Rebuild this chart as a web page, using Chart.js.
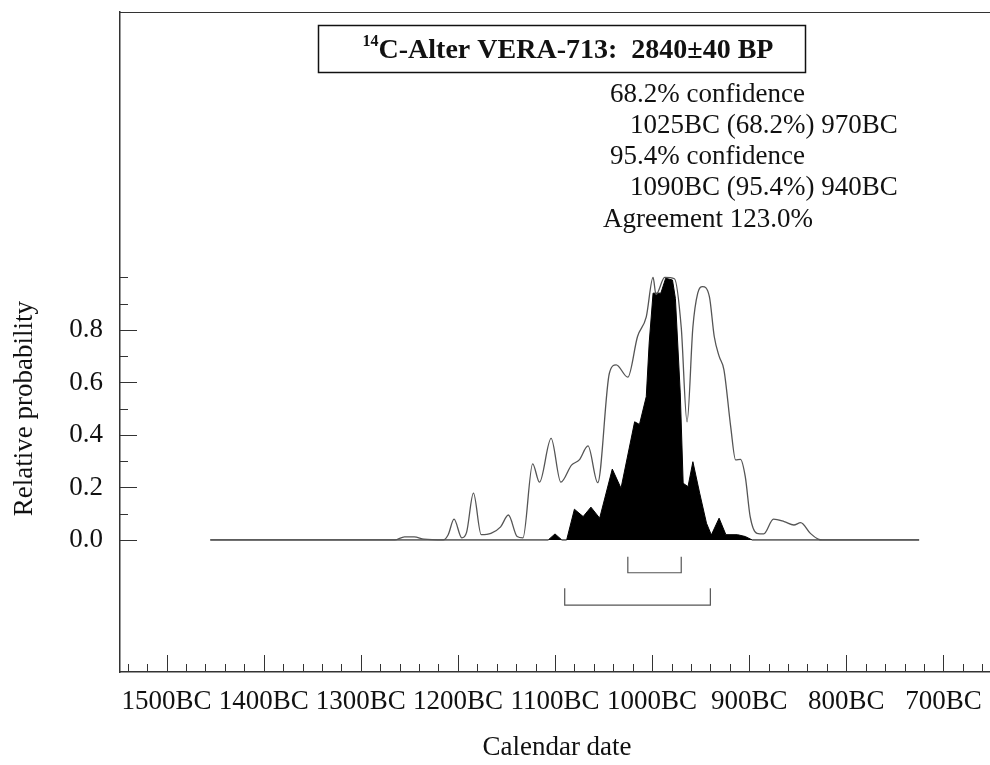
<!DOCTYPE html>
<html>
<head>
<meta charset="utf-8">
<script src="https://cdn.jsdelivr.net/npm/chart.js@4.4.0/dist/chart.umd.min.js"></script>
<style>
  html, body { margin: 0; padding: 0; background: #fff; }
</style>
</head>
<body>
<canvas id="c" width="990" height="765"></canvas>
<script>
// likelihood curve (outline), years BC and relative probability
const likeYears = [1455, 1265, 1255, 1245, 1235, 1215, 1210, 1204, 1196, 1191,
  1184, 1176, 1166, 1156, 1148, 1139, 1133, 1123, 1116, 1104,
  1094, 1083, 1075, 1066, 1056, 1044, 1037, 1025, 1015, 1006,
  999, 996, 987, 977, 970, 964, 958, 953, 948, 941,
  936, 931, 926, 919, 914, 909, 904, 899, 892, 885,
  875, 864, 854, 847, 837, 829, 825, 725]
const likeProb = [0, 0, 0.012, 0.012, 0.003, 0, 0.02, 0.079, 0.008, 0.03,
  0.178, 0.02, 0.025, 0.05, 0.095, 0.013, 0.008, 0.29, 0.22, 0.387,
  0.22, 0.285, 0.305, 0.358, 0.218, 0.635, 0.667, 0.62, 0.775, 0.85,
  1.0, 0.935, 1.0, 0.995, 0.81, 0.45, 0.81, 0.94, 0.965, 0.927,
  0.775, 0.70, 0.648, 0.43, 0.305, 0.307, 0.24, 0.089, 0.025, 0.023,
  0.079, 0.07, 0.057, 0.066, 0.025, 0.003, 0, 0]

// posterior (black filled)
const postYears = [1455, 1107, 1100, 1093, 1088, 1080, 1071, 1063, 1054, 1041,
  1032, 1018, 1013, 1006, 1003, 999, 991, 986, 979, 976,
  971, 968, 963, 958, 951, 944, 939, 931, 924, 912,
  904, 897, 725]
const postProb = [0, 0, 0.023, 0, 0, 0.117, 0.089, 0.125, 0.083, 0.27,
  0.197, 0.45, 0.44, 0.546, 0.75, 0.94, 0.94, 0.997, 0.99, 0.92,
  0.56, 0.216, 0.203, 0.298, 0.178, 0.064, 0.019, 0.083, 0.02, 0.02,
  0.013, 0, 0]

// ranges (BC)
const range68 = [1025, 970]
const range95 = [1090, 940]

// axis ticks
const labelYears = [1500, 1400, 1300, 1200, 1100, 1000, 900, 800, 700]
const minorYears = []
for (let yr = 1540; yr >= 660; yr -= 20) minorYears.push(yr)
const yLabels = [0, 0.2, 0.4, 0.6, 0.8]
const yTicks = [0, 0.1, 0.2, 0.3, 0.4, 0.5, 0.6, 0.7, 0.8, 0.9, 1.0]

const titleText = 'C-Alter VERA-713:  2840\u00b140 BP'
const infoLines = [
  '68.2% confidence',
  '1025BC (68.2%) 970BC',
  '95.4% confidence',
  '1090BC (95.4%) 940BC',
  'Agreement 123.0%'
]

const SERIF = '"Liberation Serif", "DejaVu Serif", serif'
const toPts = (years, probs) => years.map((yr, i) => ({x: -yr, y: probs[i]}))
const bracket = (r, top, bot) => [
  {x: -r[0], y: top}, {x: -r[0], y: bot}, {x: -r[1], y: bot}, {x: -r[1], y: top}
]

const decor = {
  id: 'decor',
  afterDraw(chart) {
    const {ctx, chartArea: a, scales: {x, y}} = chart
    ctx.save()
    ctx.strokeStyle = '#333'
    ctx.lineWidth = 1
    ctx.beginPath()
    // top frame
    ctx.moveTo(a.left, a.top + 0.5)
    ctx.lineTo(a.right, a.top + 0.5)
    // x ticks pointing inward
    x.ticks.forEach(t => {
      const px = Math.round(x.getPixelForValue(t.value)) + 0.5
      const len = labelYears.includes(-t.value) ? 17 : 8
      ctx.moveTo(px, a.bottom)
      ctx.lineTo(px, a.bottom - len)
    })
    // y ticks pointing inward
    y.ticks.forEach(t => {
      const py = Math.round(y.getPixelForValue(t.value)) + 0.5
      const v = Math.round(t.value * 10) / 10
      const len = yLabels.includes(v) ? 17 : 8
      ctx.moveTo(a.left, py)
      ctx.lineTo(a.left + len, py)
    })
    ctx.stroke()

    // title box
    ctx.lineWidth = 1.5
    ctx.strokeStyle = '#111'
    ctx.strokeRect(318.5, 25.5, 487, 47)
    ctx.fillStyle = '#111'
    ctx.textBaseline = 'alphabetic'
    ctx.font = 'bold 16px ' + SERIF
    const supW = ctx.measureText('14').width
    ctx.font = 'bold 28px ' + SERIF
    const mainW = ctx.measureText(titleText).width
    const x0 = 568 - (supW + mainW) / 2
    ctx.fillText(titleText, x0 + supW, 58)
    ctx.font = 'bold 16px ' + SERIF
    ctx.fillText('14', x0, 46)

    // summary text
    ctx.font = '27px ' + SERIF
    ctx.textBaseline = 'middle'
    ctx.textAlign = 'left'
    const lx = [610, 630, 610, 630, 603]
    const ly = [95, 126, 157, 188, 220]
    infoLines.forEach((s, i) => ctx.fillText(s, lx[i], ly[i]))

    // axis titles
    ctx.font = '27px ' + SERIF
    ctx.textAlign = 'center'
    ctx.fillText('Calendar date', 557, 748)
    ctx.translate(25, (y.getPixelForValue(0) + y.getPixelForValue(1)) / 2)
    ctx.rotate(-Math.PI / 2)
    ctx.fillText('Relative probability', 0, 0)
    ctx.restore()
  }
}

new Chart(document.getElementById('c'), {
  type: 'line',
  data: {
    datasets: [
      {
        data: toPts(likeYears, likeProb),
        borderColor: '#555',
        borderWidth: 1.3,
        pointRadius: 0,
        fill: false,
        cubicInterpolationMode: 'monotone'
      },
      {
        data: toPts(postYears, postProb),
        borderColor: '#000',
        backgroundColor: '#000',
        borderWidth: 1,
        pointRadius: 0,
        fill: 'origin',
        tension: 0
      },
      {
        data: bracket(range68, -0.064, -0.125),
        borderColor: '#555',
        borderWidth: 1.2,
        pointRadius: 0,
        fill: false
      },
      {
        data: bracket(range95, -0.184, -0.248),
        borderColor: '#555',
        borderWidth: 1.2,
        pointRadius: 0,
        fill: false
      }
    ]
  },
  options: {
    responsive: false,
    devicePixelRatio: 1,
    animation: false,
    layout: {padding: {left: 0, right: 0, top: 12, bottom: 0}},
    plugins: {legend: {display: false}, tooltip: {enabled: false}},
    scales: {
      x: {
        type: 'linear',
        min: -1548,
        max: -652,
        afterBuildTicks: s => { s.ticks = minorYears.map(yr => ({value: -yr})) },
        afterFit: s => { s.height = 93; s.paddingLeft = 0; s.paddingRight = 0 },
        grid: {display: false, drawTicks: false},
        border: {display: true, color: '#333', width: 1.5},
        ticks: {
          autoSkip: false,
          maxRotation: 0,
          padding: 14,
          color: '#111',
          font: {family: SERIF, size: 27},
          callback: v => labelYears.includes(-v) ? (-v) + 'BC' : ''
        }
      },
      y: {
        type: 'linear',
        min: -0.503,
        max: 2.011,
        afterBuildTicks: s => { s.ticks = yTicks.map(v => ({value: v})) },
        afterFit: s => { s.width = 120; s.paddingTop = 0; s.paddingBottom = 0 },
        grid: {display: false, drawTicks: false},
        border: {display: true, color: '#333', width: 1.5},
        ticks: {
          padding: 17,
          color: '#111',
          font: {family: SERIF, size: 27},
          callback: v => {
            const r = Math.round(v * 10) / 10
            return yLabels.includes(r) ? r.toFixed(1) : ''
          }
        }
      }
    }
  },
  plugins: [decor]
})
</script>
</body>
</html>
